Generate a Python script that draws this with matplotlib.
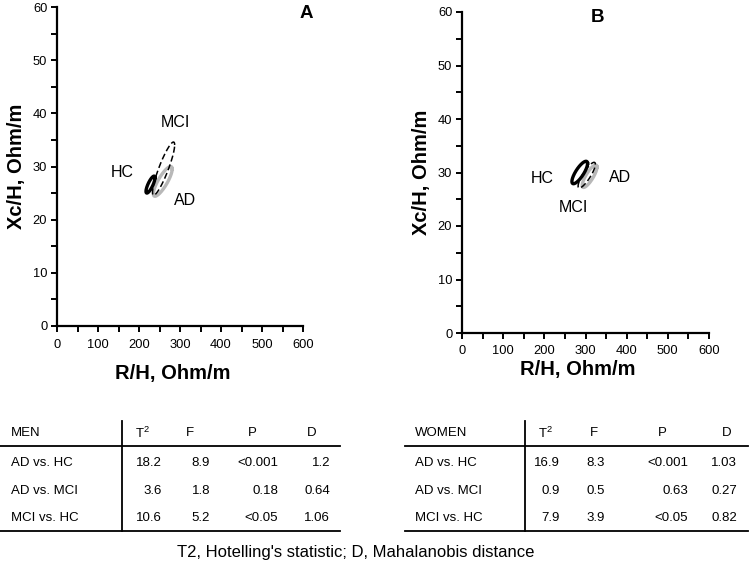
import numpy as np
import matplotlib
matplotlib.use("Agg")
import matplotlib.pyplot as plt
from matplotlib.lines import Line2D

plt.rcParams['font.family'] = ['Liberation Sans', 'DejaVu Sans']

W, H = 749, 571

# ---- ellipse data: centre (R/H, Xc/H), half-extent in x and y, correlation ----
groups = ["HC", "MCI", "AD"]
men_cx = [228, 260, 258]
men_cy = [26.6, 29.6, 27.2]
men_sx = [11, 27, 23]
men_sy = [1.6, 5.0, 2.8]
men_rho = [0.80, 0.89, 0.83]

women_cx = [286, 303, 310]
women_cy = [30.0, 29.5, 29.3]
women_sx = [19, 21, 18]
women_sy = [2.1, 2.4, 2.1]
women_rho = [0.80, 0.85, 0.82]

# label positions (data coords)
men_lab_x = [158, 288, 312]
men_lab_y = [28.9, 38.3, 23.6]
women_lab_x = [194, 270, 384]
women_lab_y = [28.8, 23.4, 29.0]

styles = {
    "HC": dict(color="black", lw=2.4, ls="-"),
    "MCI": dict(color="black", lw=1.1, ls=(0, (4, 2))),
    "AD": dict(color="#b8b8b8", lw=2.4, ls="-"),
}
draw_order = ["AD", "HC", "MCI"]

# ---- tables ----
col_heads = ["T2", "F", "P", "D"]
row_names = ["AD vs. HC", "AD vs. MCI", "MCI vs. HC"]
men_T2 = ["18.2", "3.6", "10.6"]
men_F = ["8.9", "1.8", "5.2"]
men_P = ["<0.001", "0.18", "<0.05"]
men_D = ["1.2", "0.64", "1.06"]
women_T2 = ["16.9", "0.9", "7.9"]
women_F = ["8.3", "0.5", "3.9"]
women_P = ["<0.001", "0.63", "<0.05"]
women_D = ["1.03", "0.27", "0.82"]

fig = plt.figure(figsize=(W / 100, H / 100), dpi=100)


def fx(px):
    return px / W


def fy(py):
    return 1 - py / H


def panel(rect, cx, cy, sx, sy, rho, lab_x, lab_y, letter, letter_pos, ylab_x, xlab_pos):
    ax = fig.add_axes(rect)
    t = np.linspace(0, 2 * np.pi, 300)
    idx = {g: i for i, g in enumerate(groups)}
    for g in draw_order:
        i = idx[g]
        x = cx[i] + sx[i] * np.cos(t)
        y = cy[i] + sy[i] * (rho[i] * np.cos(t) + np.sqrt(1 - rho[i] ** 2) * np.sin(t))
        ax.plot(x, y, **styles[g])
    for i, g in enumerate(groups):
        ax.text(lab_x[i], lab_y[i], g, fontsize=11.5, ha="center", va="center")
    ax.set_xlim(0, 600)
    ax.set_ylim(0, 60)
    ax.set_xticks(np.arange(0, 601, 100))
    ax.set_yticks(np.arange(0, 61, 10))
    ax.set_xticks(np.arange(0, 601, 50), minor=True)
    ax.set_yticks(np.arange(0, 61, 5), minor=True)
    for s in ["top", "right"]:
        ax.spines[s].set_visible(False)
    for s in ["left", "bottom"]:
        ax.spines[s].set_linewidth(1.6)
    ax.tick_params(which="both", direction="out", width=1.4, length=4, labelsize=9.3, pad=5)
    ax.tick_params(axis="y", which="major", pad=3)
    ax.patch.set_alpha(0)
    fig.text(fx(letter_pos[0]), fy(letter_pos[1]), letter, fontsize=13.5, fontweight="bold",
             ha="center", va="center")
    fig.text(fx(ylab_x), (rect[1] + rect[1] + rect[3]) / 2, "Xc/H, Ohm/m", fontsize=14.5,
             fontweight="bold", rotation=90, ha="center", va="center")
    fig.text(fx(xlab_pos[0]), fy(xlab_pos[1]), "R/H, Ohm/m", fontsize=14.5,
             fontweight="bold", ha="center", va="center")
    return ax


panel([fx(57), fy(326), (303 - 57) / W, (326 - 7) / H],
      men_cx, men_cy, men_sx, men_sy, men_rho, men_lab_x, men_lab_y,
      "A", (306, 14), 17, (173, 373))
panel([fx(462), fy(333), (709 - 462) / W, (333 - 12) / H],
      women_cx, women_cy, women_sx, women_sy, women_rho, women_lab_x, women_lab_y,
      "B", (598, 18), 422, (578, 370))


def table(title, vals, x_left, x_right, x_text, x_vline, head_x, right_x):
    fs = 9.5
    y_head, y_hline, y_bot, y_vtop = 433, 446, 531, 421
    row_y = [463, 491, 518]
    fig.add_artist(Line2D([fx(x_left), fx(x_right)], [fy(y_hline), fy(y_hline)],
                          color="black", lw=1.3, transform=fig.transFigure))
    fig.add_artist(Line2D([fx(x_left), fx(x_right)], [fy(y_bot), fy(y_bot)],
                          color="black", lw=1.3, transform=fig.transFigure))
    fig.add_artist(Line2D([fx(x_vline), fx(x_vline)], [fy(y_vtop), fy(y_bot)],
                          color="black", lw=1.3, transform=fig.transFigure))
    fig.text(fx(x_text), fy(y_head), title, fontsize=fs, ha="left", va="center")
    heads = [r"T$^{\mathregular{2}}$", "F", "P", "D"]
    for hx, h in zip(head_x, heads):
        fig.text(fx(hx), fy(y_head), h, fontsize=fs, ha="center", va="center")
    for r, name in enumerate(row_names):
        fig.text(fx(x_text), fy(row_y[r]), name, fontsize=fs, ha="left", va="center")
        for c, col in enumerate(vals):
            fig.text(fx(right_x[c]), fy(row_y[r]), col[r], fontsize=fs, ha="right", va="center")


table("MEN", [men_T2, men_F, men_P, men_D], 0, 340, 11, 122,
      [142, 190, 252, 312], [162, 210, 278, 330])
table("WOMEN", [women_T2, women_F, women_P, women_D], 405, 748, 415, 525,
      [545, 594, 662, 727], [560, 605, 688, 737])

fig.text(fx(356), fy(552), "T2, Hotelling's statistic; D, Mahalanobis distance",
         fontsize=12, ha="center", va="center")

fig.savefig("out.png", dpi=100)
